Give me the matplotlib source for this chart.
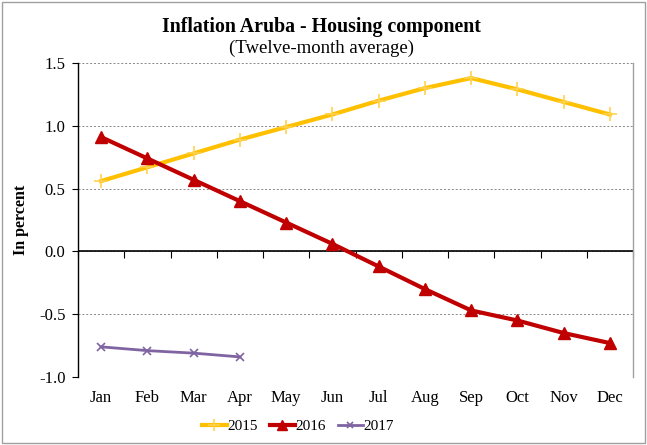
import matplotlib
matplotlib.use("Agg")
import matplotlib.pyplot as plt
from matplotlib.patches import Rectangle

months = ["Jan", "Feb", "Mar", "Apr", "May", "Jun", "Jul", "Aug", "Sep", "Oct", "Nov", "Dec"]
y2015 = [0.56, 0.67, 0.78, 0.89, 0.99, 1.09, 1.20, 1.30, 1.38, 1.29, 1.19, 1.09]
y2016 = [0.91, 0.74, 0.57, 0.40, 0.23, 0.06, -0.12, -0.30, -0.47, -0.55, -0.65, -0.73]
y2017 = [-0.76, -0.79, -0.81, -0.84]
yticks = [-1.0, -0.5, 0.0, 0.5, 1.0, 1.5]

plt.rcParams['font.family'] = ['Liberation Serif', 'DejaVu Serif']

fig = plt.figure(figsize=(6.47, 4.45), dpi=100)
ax = fig.add_axes([78/647, 1-377/445, (633-78)/647, (377-63)/445])

x = list(range(12))
ax.plot(x, y2015, color="#FFC000", lw=3, marker="+", ms=10, mew=1.2, mec="#FFD24D", label="2015", zorder=3)
ax.plot(x, y2016, color="#C00000", lw=3, marker="^", ms=9, label="2016", zorder=4)
ax.plot(x[:len(y2017)], y2017, color="#8064A2", lw=2, marker="x", ms=6, mew=1.2, label="2017", zorder=5)

ax.set_xlim(-0.5, 11.5)
ax.set_ylim(-1.0, 1.5)
ax.set_yticks(yticks)
ax.set_yticklabels([f"{v:.1f}" for v in yticks], fontsize=12)
ax.set_xticks(x)
ax.set_xticklabels(months, fontsize=12)
ax.tick_params(axis="x", length=0, pad=9)
ax.tick_params(axis="y", length=4, direction="out", pad=5)

ax.yaxis.grid(True, linestyle=(0, (2, 2)), color="#888888", lw=0.7)
ax.set_axisbelow(True)
for s in ["top", "bottom"]:
    ax.spines[s].set_visible(False)
ax.spines["left"].set_color("black")
ax.spines["left"].set_linewidth(1.0)
ax.spines["right"].set_color("#A0A0A0")
ax.spines["right"].set_linewidth(1.0)

ax.axhline(0, color="black", lw=1.2, zorder=2)
sec = ax.secondary_xaxis(0.4)
sec.set_xticks([i - 0.5 for i in range(13)])
sec.set_xticklabels([])
sec.tick_params(axis="x", length=5, direction="out", color="black")
sec.spines["bottom"].set_visible(False)

ax.set_ylabel("In percent", fontsize=11.5, fontweight="bold", labelpad=7)

fig.text(0.497, 1-27/445, "Inflation Aruba - Housing component", ha="center", va="center",
         fontsize=14.3, fontweight="bold")
fig.text(0.497, 1-48/445, "(Twelve-month average)", ha="center", va="center", fontsize=13.5)

ax.legend(loc="center", bbox_to_anchor=((298-78)/555, 1-(426-63)/314), ncol=3, frameon=False,
          fontsize=11, handlelength=1.6, handletextpad=0.05, columnspacing=0.8,
          markerscale=0.8)

fig.patches.append(Rectangle((2/647, 2/445), 643/647, 441/445, transform=fig.transFigure,
                             fill=False, edgecolor="#A0A0A0", lw=1))

fig.savefig("out.png", dpi=100)
